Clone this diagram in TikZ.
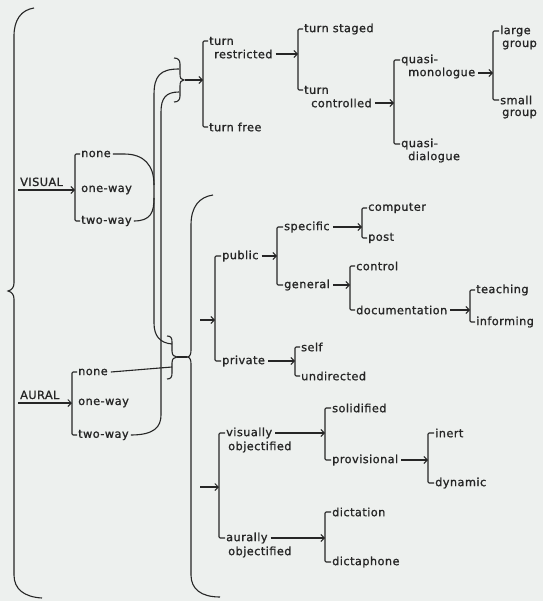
\documentclass[tikz,border=0pt]{standalone}
\usepackage{fontspec}
\newfontfamily\plotfont[LetterSpace=4,FakeBold=1.2]{DejaVu Sans}
\usetikzlibrary{arrows.meta}
\definecolor{ink}{HTML}{262626}
\definecolor{paper}{HTML}{EDF0EE}
\newcommand\brk[3]{\draw[link] ([xshift=-1pt]#2.west) -- (#2.west -| #1) -- (#3.west -| #1) -- ([xshift=-1pt]#3.west);}
\newcommand\feed[2]{\draw[arr] ([xshift=3pt]#1.east) -- (#1.east -| #2);}
\begin{document}
\begin{tikzpicture}[x=1pt,y=-1pt,
  lab/.style={font=\plotfont\fontsize{11.3}{13}\selectfont, text=ink, inner sep=0pt, anchor=west},
  link/.style={draw=ink, line width=1.1pt, rounded corners=1.2pt},
  arr/.style={draw=ink, line width=1.1pt, -{Straight Barb[length=3.5pt,width=7pt,line width=1pt]}},
  curve/.style={draw=ink, line width=1.1pt}]
\fill[paper] (0,0) rectangle (543,601);
\useasboundingbox (0,0) rectangle (543,601);

% ---------- bracket x positions
\coordinate (xV) at (75,0);
\coordinate (xA) at (72,0);
\coordinate (xT) at (203,0);
\coordinate (xR) at (298,0);
\coordinate (xC) at (394,0);
\coordinate (xMo) at (493,0);
\coordinate (xM1) at (215,0);
\coordinate (xPu) at (277,0);
\coordinate (xSp) at (362,0);
\coordinate (xGe) at (350,0);
\coordinate (xDo) at (470,0);
\coordinate (xPr) at (295,0);
\coordinate (xM2) at (219,0);
\coordinate (xVi) at (325,0);
\coordinate (xPv) at (428,0);
\coordinate (xAu) at (325,0);

% ---------- VISUAL
\node[lab, anchor=base west] (vis) at (20,186) {VISUAL};
\coordinate (visin) at (18,190);
\node[lab] (vnone) at (81,154) {none};
\node[lab] (vone) at (81,190) {one-way};
\node[lab] (vtwo) at (81,221) {two-way};
\draw[arr] (visin) -- (visin -| xV);
\brk{xV}{vnone}{vtwo}

% ---------- AURAL
\node[lab, anchor=base west] (aur) at (20,399) {AURAL};
\coordinate (aurin) at (18,403);
\node[lab] (anone) at (78,372) {none};
\node[lab] (aone) at (78,403) {one-way};
\node[lab] (atwo) at (78,435) {two-way};
\draw[arr] (aurin) -- (aurin -| xA);
\brk{xA}{anone}{atwo}

% ---------- turn system
\node[lab] (turn1) at (209,41) {turn};
\node[lab] (restr) at (214,54) {restricted};
\node[lab] (tfree) at (209,127) {turn free};
\brk{xT}{turn1}{tfree}
\node[lab] (tstaged) at (304,29) {turn staged};
\node[lab] (turn2) at (304,90) {turn};
\node[lab] (contr) at (311,103) {controlled};
\feed{restr}{xR}
\brk{xR}{tstaged}{turn2}
\node[lab] (quasi1) at (401,60) {quasi-};
\node[lab] (mono) at (408,73) {monologue};
\node[lab] (quasi2) at (401,144) {quasi-};
\node[lab] (dial) at (408,157) {dialogue};
\feed{contr}{xC}
\brk{xC}{quasi1}{quasi2}
\node[lab] (large) at (500,31) {large};
\node[lab] (grp1) at (502,45) {group};
\node[lab] (small) at (500,100) {small};
\node[lab] (grp2) at (502,114) {group};
\feed{mono}{xMo}
\brk{xMo}{large}{small}

% ---------- public / private
\coordinate (a1) at (200,320);
\draw[arr] (a1) -- (a1 -| xM1);
\node[lab] (public) at (222,256) {public};
\node[lab] (private) at (222,361) {private};
\brk{xM1}{public}{private}
\node[lab] (specific) at (284,227) {specific};
\node[lab] (general) at (284,285) {general};
\feed{public}{xPu}
\brk{xPu}{specific}{general}
\node[lab] (computer) at (368,208) {computer};
\node[lab] (post) at (368,238) {post};
\feed{specific}{xSp}
\brk{xSp}{computer}{post}
\node[lab] (control) at (356,266) {control};
\node[lab] (docu) at (356,310) {documentation};
\feed{general}{xGe}
\brk{xGe}{control}{docu}
\node[lab] (teach) at (476,290) {teaching};
\node[lab] (inform) at (476,322) {informing};
\feed{docu}{xDo}
\brk{xDo}{teach}{inform}
\node[lab] (self) at (301,347) {self};
\node[lab] (undir) at (301,376) {undirected};
\feed{private}{xPr}
\brk{xPr}{self}{undir}

% ---------- objectified
\coordinate (a2) at (200,487);
\draw[arr] (a2) -- (a2 -| xM2);
\node[lab] (visu) at (226,433) {visually};
\node[lab] (obj1) at (228,447) {objectified};
\node[lab] (aurl) at (226,538) {aurally};
\node[lab] (obj2) at (228,552) {objectified};
\brk{xM2}{visu}{aurl}
\node[lab] (solid) at (332,408) {solidified};
\node[lab] (prov) at (332,460) {provisional};
\feed{visu}{xVi}
\brk{xVi}{solid}{prov}
\node[lab] (inert) at (435,433) {inert};
\node[lab] (dyn) at (435,483) {dynamic};
\feed{prov}{xPv}
\brk{xPv}{inert}{dyn}
\node[lab] (dicta) at (332,512) {dictation};
\node[lab] (dictp) at (332,562) {dictaphone};
\feed{aurl}{xAu}
\brk{xAu}{dicta}{dictp}

% ---------- braces
% left big brace
\coordinate (lbp) at (8,291);
\draw[curve] (34,8) .. controls (21,10) and (14,20) .. (14,36) -- (14,283)
  .. controls (14,287) and (12,290) .. (lbp)
  .. controls (12,292) and (14,295) .. (14,299) -- (14,575)
  .. controls (14,589) and (24,597) .. (42,598);
% turn brace
\coordinate (tbp) at (184,80);
\coordinate (tb1) at (179,69);
\coordinate (tb2) at (179,92);
\draw[curve] (174,58) .. controls (178,58) and (180,60) .. (180,64) -- (180,74)
  .. controls (180,78) and (181,80) .. (tbp)
  .. controls (181,80) and (180,82) .. (180,86) -- (180,96)
  .. controls (180,100) and (178,102) .. (174,102);
\draw[arr] ([xshift=1pt]tbp) -- (tbp -| xT);
% small conjunction brace
\coordinate (sbp) at (177,357);
\coordinate (sb1) at (172,344);
\coordinate (sb2) at (172,367);
\draw[curve] (167,336) .. controls (171,336) and (172,338) .. (172,342) -- (172,351)
  .. controls (172,355) and (174,357) .. (sbp)
  .. controls (174,357) and (172,359) .. (172,363) -- (172,373)
  .. controls (172,377) and (171,379) .. (167,379);
% big right brace
\coordinate (rbp) at (187,357);
\draw[curve] (213,195) .. controls (199,197) and (191,207) .. (191,225) -- (191,350)
  .. controls (191,354) and (190,357) .. (rbp)
  .. controls (190,357) and (191,360) .. (191,364) -- (191,575)
  .. controls (191,589) and (201,597) .. (220,597);
\draw[curve] (sbp) -- (rbp);

% ---------- feeders
\draw[curve] (tb1) .. controls (160,69) and (154,76) .. (154,95) -- (154,323)
  .. controls (154,336) and (160,343) .. (sb1);
\draw[curve] (tb2) .. controls (166,92) and (161,98) .. (161,112) -- (161,415)
  .. controls (161,427) and (154,435) .. ([xshift=2pt]atwo.east);
\draw[curve] ([xshift=2pt]vnone.east) -- (124,154) .. controls (144,154) and (154,165) .. (154,185);
\draw[curve] ([xshift=2pt]vtwo.east) .. controls (151,221) and (154,212) .. (154,198);
\draw[curve] ([xshift=3pt]anone.east) -- (sb2);
\end{tikzpicture}
\end{document}
